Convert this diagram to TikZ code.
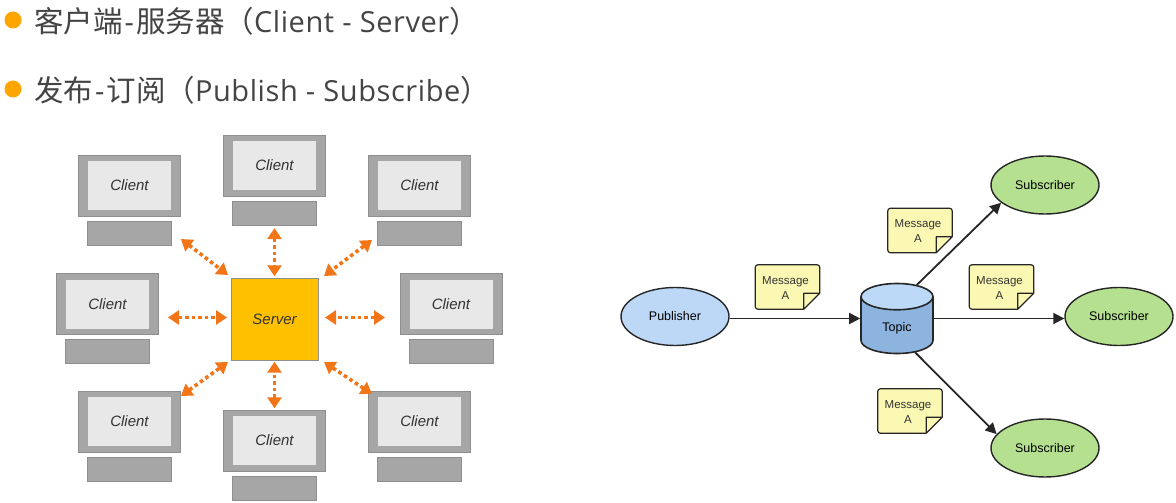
\documentclass[tikz,border=0pt]{standalone}
\usepackage{fontspec}
\setmainfont{Liberation Sans}
\newfontfamily\cjkfont{Noto Sans CJK SC}
\newfontfamily\headfont[LetterSpace=2]{Open Sans}
\usetikzlibrary{arrows.meta,positioning,shapes.geometric,calc}
\definecolor{bulletorange}{HTML}{FFA500}
\definecolor{linkorange}{HTML}{F27518}
\definecolor{servergold}{HTML}{FFC000}
\definecolor{pcgray}{HTML}{A6A6A6}
\definecolor{pcedge}{HTML}{8E8E8E}
\definecolor{screengray}{HTML}{E8E8E8}
\definecolor{pubblue}{HTML}{BDD7F7}
\definecolor{subgreen}{HTML}{B5E08F}
\definecolor{notecream}{HTML}{FBF8B4}
\definecolor{topicbody}{HTML}{8DB4DE}
\definecolor{topictop}{HTML}{BDD9F8}
\definecolor{headtext}{HTML}{444444}
\newcommand{\hz}[1]{{\cjkfont\fontsize{29.5}{30}\selectfont #1}}
\newcommand{\msgnote}[3]{%
  \node[msgbox] (#1) at (#2,#3) {};
  \draw[noteline,fill=notecream,rounded corners=2.5pt] ($(#1.south east)+(-16,0)$) -- (#1.south west) -- (#1.north west) -- (#1.north east) -- ($(#1.south east)+(0,-16)$);
  \draw[noteline,fill=notecream,line join=round] ($(#1.south east)+(0,-16)$) -- ($(#1.south east)+(-16,-16)$) -- ($(#1.south east)+(-16,0)$) -- cycle;
  \node[msgtext] at ($(#1)+(-2,1)$) {Message\\A};
}
\begin{document}
\begin{tikzpicture}[x=1pt,y=-1pt]
  \tikzstyle{headline}=[font=\headfont\fontsize{29}{30}\selectfont,text=headtext,anchor=west,inner sep=0pt]
  \tikzstyle{bullet}=[circle,fill=bulletorange,minimum size=17pt,inner sep=0pt]
  \tikzstyle{monitor}=[rectangle,draw=pcedge,fill=pcgray,minimum width=102pt,minimum height=61pt,inner sep=0pt]
  \tikzstyle{screen}=[rectangle,fill=screengray,draw=none,minimum width=83pt,minimum height=49pt,inner sep=0pt,font=\itshape\fontsize{15}{17}\selectfont,text=black!80]
  \tikzstyle{keyboard}=[rectangle,draw=pcedge,fill=pcgray,minimum width=84pt,minimum height=24pt,inner sep=0pt]
  \tikzstyle{serverbox}=[rectangle,draw=pcedge,fill=servergold,minimum width=87pt,minimum height=82pt,inner sep=0pt,font=\itshape\fontsize{15}{17}\selectfont,text=black!80]
  \tikzstyle{link}=[draw=linkorange,line width=3.6pt,dash pattern=on 3.6pt off 3pt,{Triangle[width=14pt,length=11pt,fill=linkorange]}-{Triangle[width=14pt,length=11pt,fill=linkorange]}]
  \tikzstyle{flow}=[draw=black!85,line width=1.8pt,-{Triangle[width=11pt,length=11pt]}]
  \tikzstyle{party}=[ellipse,draw=black!85,line width=1.4pt,minimum width=108pt,minimum height=58pt,inner sep=0pt,font=\fontsize{12.5}{14}\selectfont]
  \tikzstyle{msgbox}=[rectangle,minimum width=64pt,minimum height=44pt,inner sep=0pt]
  \tikzstyle{msgtext}=[align=center,inner sep=0pt,font=\fontsize{11.5}{15}\selectfont,text=black!80]
  \tikzstyle{noteline}=[draw=black!85,line width=1.2pt]

  \useasboundingbox (0,0) rectangle (1176,503);
  \fill[white] (0,0) rectangle (1176,503);

  % headings
  \node[bullet] (b1) at (13,20) {};
  \node[bullet] (b2) at (13,89) {};
  \node[headline] (h1) at (34,21) {\hz{客户端}\kern2pt-\kern2pt\hz{服务器（}Client - Server\hz{）}};
  \node[headline] (h2) at (34,90) {\hz{发布}\kern2pt-\kern2pt\hz{订阅（}Publish - Subscribe\hz{）}};

  % client - server
  \node[serverbox] (server) at (274.5,319) {Server};
  \foreach \cname/\cx/\cy in {c1/129.5/185.5,c2/274.5/165.5,c3/419.5/185.5,c4/107.5/304,c5/451/304,c6/129.5/421.5,c7/274.5/440.5,c8/419.5/421.5}{
    \node[monitor] (\cname) at (\cx,\cy) {};
    \node[screen] (\cname s) at (\cname) {Client};
    \node[keyboard,below=4.5pt of \cname] (\cname k) {};
  }
  \coordinate (e1) at (181,239);
  \coordinate (e3) at (372,240);
  \coordinate (e4) at (168,317.5);
  \coordinate (e5) at (385,317.5);
  \coordinate (e6) at (181,396);
  \coordinate (e8) at (372,394);
  \coordinate (s1) at (228,275);
  \coordinate (s3) at (324,276);
  \coordinate (s4) at (227,317.5);
  \coordinate (s5) at (325,317.5);
  \coordinate (s6) at (228,362);
  \coordinate (s8) at (324,362);
  \draw[link] (e1) -- (s1);
  \draw[link] (e3) -- (s3);
  \draw[link] (e4) -- (s4);
  \draw[link] (e5) -- (s5);
  \draw[link] (e6) -- (s6);
  \draw[link] (e8) -- (s8);
  \draw[link,xshift=1.5pt,shorten >=1.5pt,shorten <=3pt] (c2k.south-|server.north) -- (server.north);
  \draw[link,xshift=1.5pt,shorten >=1.5pt,shorten <=1.5pt] (c7.north-|server.south) -- (server.south);

  % publish - subscribe
  \node[party,fill=pubblue] (pub) at (675,316.5) {Publisher};
  \node[party,fill=subgreen] (sub1) at (1045,185) {Subscriber};
  \node[party,fill=subgreen] (sub2) at (1119,316.5) {Subscriber};
  \node[party,fill=subgreen] (sub3) at (1045,448) {Subscriber};
  \node[cylinder,anchor=shape center,shape border rotate=90,aspect=0.9,draw=black!85,line width=1.6pt,minimum width=72pt,minimum height=70pt,inner sep=0pt,
    cylinder uses custom fill,cylinder body fill=topicbody,cylinder end fill=topictop,font=\fontsize{12.5}{14}\selectfont] (topic) at (897,318.5) {\phantom{Topic}};
  \node[font=\fontsize{12.5}{14}\selectfont,inner sep=0pt] (topiclabel) at (897,328) {Topic};
  \draw[flow] (pub.east|-topic.shape center) -- (topic.west|-topic.shape center);
  \draw[flow] (topic.east|-topic.shape center) -- (sub2.west|-topic.shape center);
  \draw[flow] (topic.64) -- (sub1.202);
  \draw[flow] (topic.-56) -- (sub3.164);
  \msgnote{m1}{787.5}{287}
  \msgnote{m2}{920}{230.5}
  \msgnote{m3}{1001.5}{287}
  \msgnote{m4}{910}{411}
\end{tikzpicture}
\end{document}
